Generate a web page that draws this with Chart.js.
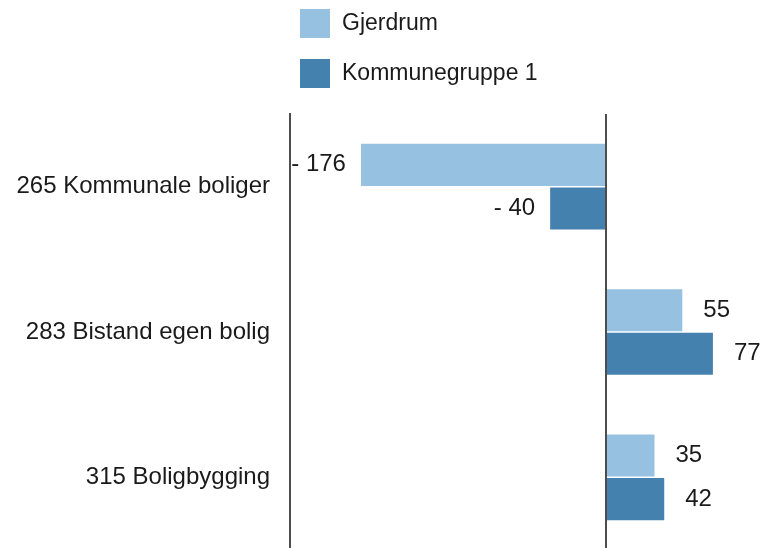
<!DOCTYPE html>
<html>
<head>
<meta charset="utf-8">
<script src="https://cdn.jsdelivr.net/npm/chart.js@4/dist/chart.umd.min.js"></script>
<style>
  html, body { margin: 0; padding: 0; background: #fff; overflow: hidden; }
  #wrap { position: relative; width: 763px; height: 550px; }
</style>
</head>
<body>
<div id="wrap"><canvas id="c" width="763" height="550"></canvas></div>
<script>
// Categories and series
const categories = ['265 Kommunale boliger', '283 Bistand egen bolig', '315 Boligbygging'];
const gjerdrum = [-176, 55, 35];
const kommunegruppe1 = [-40, 77, 42];
const seriesNames = ['Gjerdrum', 'Kommunegruppe 1'];
const seriesColors = ['#97c1e1', '#4581af'];

const FONT = '"Liberation Sans", Arial, Helvetica, sans-serif';

// Vertical line at x = 0, drawn over the bars
const zeroLine = {
  id: 'zeroLine',
  afterDatasetsDraw(chart) {
    const { ctx, chartArea, scales } = chart;
    const x = Math.round(scales.x.getPixelForValue(0));
    ctx.save();
    ctx.strokeStyle = '#4d4d4d';
    ctx.lineWidth = 2;
    ctx.beginPath();
    ctx.moveTo(x, chartArea.top);
    ctx.lineTo(x, chartArea.bottom);
    ctx.stroke();
    ctx.restore();
  }
};

// Value labels beside each bar end ("- 176" style for negatives)
const valueLabels = {
  id: 'valueLabels',
  afterDatasetsDraw(chart) {
    const ctx = chart.ctx;
    ctx.save();
    ctx.font = '24px ' + FONT;
    ctx.fillStyle = '#1a1a1a';
    ctx.textBaseline = 'middle';
    chart.data.datasets.forEach((ds, di) => {
      chart.getDatasetMeta(di).data.forEach((bar, i) => {
        const v = ds.data[i];
        if (v < 0) {
          ctx.textAlign = 'right';
          ctx.fillText('- ' + Math.abs(v), bar.x - 15, bar.y);
        } else {
          ctx.textAlign = 'left';
          ctx.fillText(String(v), bar.x + 21, bar.y);
        }
      });
    });
    ctx.restore();
  }
};

// Stacked legend in the top band
const stackedLegend = {
  id: 'stackedLegend',
  afterDraw(chart) {
    const ctx = chart.ctx;
    ctx.save();
    ctx.font = '23px ' + FONT;
    ctx.textBaseline = 'middle';
    ctx.textAlign = 'left';
    chart.data.datasets.forEach((ds, i) => {
      const top = 9 + i * 50;
      ctx.fillStyle = ds.backgroundColor;
      ctx.fillRect(300, top, 30, 29);
      ctx.fillStyle = '#1a1a1a';
      ctx.fillText(ds.label, 342, top + 14.5);
    });
    ctx.restore();
  }
};

new Chart(document.getElementById('c'), {
  type: 'bar',
  data: {
    labels: categories,
    datasets: [
      { label: seriesNames[0], data: gjerdrum, backgroundColor: seriesColors[0] },
      { label: seriesNames[1], data: kommunegruppe1, backgroundColor: seriesColors[1] }
    ]
  },
  options: {
    indexAxis: 'y',
    responsive: false,
    animation: false,
    devicePixelRatio: 1,
    categoryPercentage: 0.6,
    barPercentage: 0.965,
    layout: { padding: { top: 114, right: 0, bottom: 0, left: 0 } },
    plugins: {
      legend: { display: false },
      tooltip: { enabled: false }
    },
    scales: {
      x: {
        display: false,
        min: -227,
        max: 113
      },
      y: {
        grid: { display: false, drawTicks: false },
        border: { display: true, color: '#4d4d4d', width: 2 },
        ticks: {
          padding: 20,
          color: '#1a1a1a',
          font: { family: FONT, size: 24 }
        },
        afterFit(scale) {
          scale.width = 290;
          scale.paddingTop = 0;
          scale.paddingBottom = 0;
        }
      }
    }
  },
  plugins: [zeroLine, valueLabels, stackedLegend]
});
</script>
</body>
</html>
